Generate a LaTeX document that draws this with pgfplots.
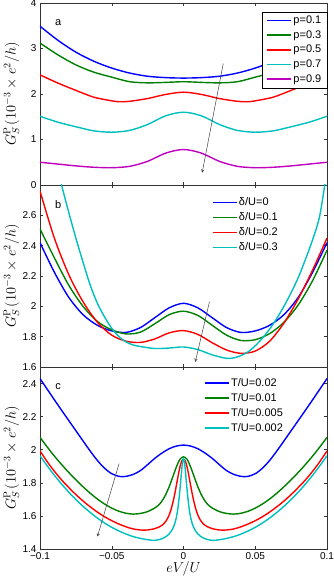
\documentclass[border=0pt]{standalone}
\usepackage[no-math]{fontspec}
\setmainfont{Liberation Sans}
\usepackage{pgfplots}
\pgfplotsset{compat=1.18}

\definecolor{mblue}{rgb}{0,0,1}
\definecolor{mgreen}{rgb}{0,0.5,0}
\definecolor{mred}{rgb}{1,0,0}
\definecolor{mcyan}{rgb}{0,0.75,0.75}
\definecolor{mmag}{rgb}{0.75,0,0.75}

\tikzset{lbl/.style={font=\fontsize{11}{13}\selectfont, anchor=center}}

\pgfplotsset{
  panel/.style={
    width=287pt, height=182pt, scale only axis,
    xmin=-0.1, xmax=0.1,
    xtick={-0.1,-0.05,0,0.05,0.1},
    tick align=inside, tick pos=both,
    major tick length=3pt,
    axis line style={line width=0.5pt, black!80},
    every tick/.style={black!80, line width=0.5pt},
    tick label style={font=\fontsize{10}{12}\selectfont},
    /pgf/number format/assume math mode=true,
    ylabel={$G_S^{\rm P}\,(10^{-3}\times e^2/h)$},
    ylabel style={at={(axis description cs:-0.1,0.5)}, anchor=center,
      font=\fontsize{14.5}{16}\selectfont},
    every axis plot/.append style={line width=1.4pt, smooth},
    legend cell align=left,
    legend image code/.code={\draw[##1, line width=1.5pt] (0pt,0pt) -- (24pt,0pt);},
    legend style={font=\fontsize{11}{13}\selectfont, row sep=2.5pt,
      nodes={inner sep=1.5pt}},
  },
}

\begin{document}
\begin{tikzpicture}
% panel a
\begin{axis}[panel, name=a, at={(0,0)}, anchor=north west,
  ymin=0, ymax=4, ytick={0,1,2,3,4}, xticklabels={},
  legend style={at={(axis description cs:1,0.952)}, anchor=north east, draw=black, fill=white,
    inner xsep=4pt, inner ysep=2.5pt}]
\addplot[mblue] coordinates {(-0.1,3.49) (-0.0875,3.18) (-0.075,2.92) (-0.0625,2.72) (-0.05,2.57) (-0.0375,2.46) (-0.025,2.39) (-0.0125,2.36) (0,2.35) (0.0125,2.36) (0.025,2.39) (0.0375,2.46) (0.05,2.57) (0.0625,2.72) (0.075,2.92) (0.0875,3.18) (0.1,3.49)};
\addlegendentry{p=0.1}
\addplot[mgreen] coordinates {(-0.1,3.12) (-0.0875,2.86) (-0.075,2.64) (-0.0625,2.48) (-0.05,2.37) (-0.0375,2.27) (-0.025,2.245) (-0.0125,2.255) (0,2.27) (0.0125,2.255) (0.025,2.245) (0.0375,2.27) (0.05,2.37) (0.0625,2.48) (0.075,2.64) (0.0875,2.86) (0.1,3.12)};
\addlegendentry{p=0.3}
\addplot[mred] coordinates {(-0.1,2.42) (-0.0875,2.24) (-0.075,2.08) (-0.0625,1.93) (-0.05,1.85) (-0.045,1.83) (-0.0375,1.84) (-0.025,1.90) (-0.0125,1.99) (0,2.04) (0.0125,1.99) (0.025,1.90) (0.0375,1.84) (0.045,1.83) (0.05,1.85) (0.0625,1.93) (0.075,2.08) (0.0875,2.24) (0.1,2.42)};
\addlegendentry{p=0.5}
\addplot[mcyan] coordinates {(-0.1,1.51) (-0.0875,1.38) (-0.075,1.28) (-0.0625,1.19) (-0.05,1.16) (-0.0375,1.20) (-0.025,1.33) (-0.0125,1.52) (0,1.60) (0.0125,1.52) (0.025,1.33) (0.0375,1.20) (0.05,1.16) (0.0625,1.19) (0.075,1.28) (0.0875,1.38) (0.1,1.51)};
\addlegendentry{p=0.7}
\addplot[mmag] coordinates {(-0.1,0.50) (-0.0875,0.46) (-0.075,0.42) (-0.0625,0.39) (-0.05,0.38) (-0.0375,0.41) (-0.025,0.52) (-0.0125,0.70) (0,0.78) (0.0125,0.70) (0.025,0.52) (0.0375,0.41) (0.05,0.38) (0.0625,0.39) (0.075,0.42) (0.0875,0.46) (0.1,0.50)};
\addlegendentry{p=0.9}
\node[lbl] at (rel axis cs:0.063,0.89) {a};
\draw[-stealth, black!75, line width=0.5pt] (axis cs:0.0277,2.67) -- (axis cs:0.013,0.27);
\end{axis}

% panel b
\begin{axis}[panel, name=b, at={(a.south west)}, anchor=north west,
  ymin=1.6, ymax=2.8, ytick={1.6,1.8,2,2.2,2.4,2.6,2.8},
  yticklabels={1.6,1.8,2,2.2,2.4,2.6,{}}, xticklabels={},
  legend style={at={(axis description cs:0.588,0.61)}, anchor=south west, draw=none, fill=none}]
\addplot[mblue] coordinates {(-0.1,2.42) (-0.09,2.225) (-0.08,2.06) (-0.07,1.945) (-0.06,1.875) (-0.05,1.838) (-0.04,1.828) (-0.03,1.86) (-0.02,1.925) (-0.01,1.99) (0,2.02) (0.01,1.99) (0.02,1.925) (0.03,1.86) (0.04,1.828) (0.05,1.838) (0.06,1.875) (0.07,1.945) (0.08,2.06) (0.09,2.225) (0.1,2.42)};
\addlegendentry{δ/U=0}
\addplot[mgreen] coordinates {(-0.1,2.51) (-0.09,2.32) (-0.08,2.14) (-0.07,2.0) (-0.06,1.90) (-0.05,1.845) (-0.04,1.818) (-0.03,1.83) (-0.02,1.885) (-0.01,1.945) (0,1.968) (0.01,1.94) (0.02,1.875) (0.03,1.81) (0.04,1.775) (0.05,1.78) (0.06,1.82) (0.07,1.895) (0.08,2.01) (0.09,2.17) (0.1,2.37)};
\addlegendentry{δ/U=0.1}
\addplot[mred] coordinates {(-0.1,2.76) (-0.09,2.45) (-0.08,2.21) (-0.07,2.03) (-0.06,1.895) (-0.05,1.81) (-0.04,1.77) (-0.03,1.762) (-0.02,1.785) (-0.01,1.825) (0,1.84) (0.01,1.815) (0.02,1.76) (0.03,1.712) (0.04,1.69) (0.05,1.705) (0.06,1.77) (0.07,1.89) (0.08,2.05) (0.09,2.24) (0.1,2.45)};
\addlegendentry{δ/U=0.2}
\addplot[mcyan] coordinates {(-0.1,3.3) (-0.09,2.98) (-0.085,2.80) (-0.08,2.62) (-0.075,2.45) (-0.07,2.29) (-0.065,2.14) (-0.06,2.02) (-0.055,1.93) (-0.05,1.855) (-0.045,1.80) (-0.04,1.765) (-0.035,1.745) (-0.03,1.735) (-0.02,1.722) (-0.01,1.725) (0,1.732) (0.01,1.715) (0.02,1.68) (0.03,1.657) (0.035,1.66) (0.04,1.675) (0.045,1.70) (0.05,1.74) (0.055,1.79) (0.06,1.85) (0.065,1.92) (0.07,2.0) (0.075,2.09) (0.08,2.19) (0.085,2.31) (0.09,2.44) (0.095,2.6) (0.1,2.9)};
\addlegendentry{δ/U=0.3}
\node[lbl] at (rel axis cs:0.063,0.89) {b};
\draw[-stealth, black!75, line width=0.5pt] (axis cs:0.0181,2.03) -- (axis cs:0.0082,1.634);
\end{axis}

% panel c
\begin{axis}[panel, name=c, at={(b.south west)}, anchor=north west,
  ymin=1.4, ymax=2.5, ytick={1.4,1.6,...,2.4},
  xticklabels={−0.1,−0.05,0,0.05,0.1},
  xlabel={$eV/U$},
  xlabel style={font=\fontsize{14.5}{16}\selectfont, at={(axis description cs:0.5,-0.112)}, anchor=center},
  legend style={at={(axis description cs:0.561,0.959)}, anchor=north west, draw=none, fill=none}]
\addplot[mblue] coordinates {(-0.1,2.43) (-0.095,2.366) (-0.09,2.302) (-0.085,2.239) (-0.08,2.177) (-0.075,2.115) (-0.07,2.053) (-0.065,1.992) (-0.06,1.935) (-0.055,1.888) (-0.05,1.855) (-0.045,1.839) (-0.0425,1.837) (-0.04,1.839) (-0.035,1.851) (-0.03,1.874) (-0.025,1.91) (-0.02,1.948) (-0.015,1.98) (-0.01,2.006) (-0.005,2.022) (0,2.028) (0.005,2.022) (0.01,2.006) (0.015,1.98) (0.02,1.948) (0.025,1.91) (0.03,1.874) (0.035,1.851) (0.04,1.839) (0.0425,1.837) (0.045,1.839) (0.05,1.855) (0.055,1.888) (0.06,1.935) (0.065,1.992) (0.07,2.053) (0.075,2.115) (0.08,2.177) (0.085,2.239) (0.09,2.302) (0.095,2.366) (0.1,2.43)};
\addlegendentry{T/U=0.02}
\addplot[mgreen] coordinates {(-0.1,2.075) (-0.095,2.017) (-0.09,1.962) (-0.085,1.911) (-0.08,1.863) (-0.075,1.818) (-0.07,1.776) (-0.065,1.737) (-0.06,1.702) (-0.055,1.672) (-0.05,1.647) (-0.045,1.628) (-0.04,1.616) (-0.035,1.611) (-0.03,1.615) (-0.025,1.626) (-0.02,1.648) (-0.0175,1.664) (-0.015,1.69) (-0.0125,1.727) (-0.01,1.776) (-0.0075,1.835) (-0.005,1.895) (-0.0025,1.942) (0,1.957) (0.0025,1.942) (0.005,1.895) (0.0075,1.835) (0.01,1.776) (0.0125,1.727) (0.015,1.69) (0.0175,1.664) (0.02,1.648) (0.025,1.626) (0.03,1.615) (0.035,1.611) (0.04,1.616) (0.045,1.628) (0.05,1.647) (0.055,1.672) (0.06,1.702) (0.065,1.737) (0.07,1.776) (0.075,1.818) (0.08,1.863) (0.085,1.911) (0.09,1.962) (0.095,2.017) (0.1,2.075)};
\addlegendentry{T/U=0.01}
\addplot[mred] coordinates {(-0.1,1.993) (-0.095,1.928) (-0.09,1.87) (-0.085,1.818) (-0.08,1.772) (-0.075,1.729) (-0.07,1.69) (-0.065,1.655) (-0.06,1.623) (-0.055,1.595) (-0.05,1.571) (-0.045,1.551) (-0.04,1.534) (-0.035,1.521) (-0.03,1.515) (-0.0275,1.514) (-0.025,1.515) (-0.02,1.523) (-0.017,1.533) (-0.014,1.55) (-0.012,1.571) (-0.01,1.605) (-0.009,1.63) (-0.008,1.66) (-0.007,1.696) (-0.006,1.737) (-0.005,1.783) (-0.004,1.83) (-0.003,1.875) (-0.002,1.912) (-0.001,1.936) (0,1.943) (0.001,1.936) (0.002,1.912) (0.003,1.875) (0.004,1.83) (0.005,1.783) (0.006,1.737) (0.007,1.696) (0.008,1.66) (0.009,1.63) (0.01,1.605) (0.012,1.571) (0.014,1.55) (0.017,1.533) (0.02,1.523) (0.025,1.515) (0.0275,1.514) (0.03,1.515) (0.035,1.521) (0.04,1.534) (0.045,1.551) (0.05,1.571) (0.055,1.595) (0.06,1.623) (0.065,1.655) (0.07,1.69) (0.075,1.729) (0.08,1.772) (0.085,1.818) (0.09,1.87) (0.095,1.928) (0.1,1.993)};
\addlegendentry{T/U=0.005}
\addplot[mcyan] coordinates {(-0.1,1.964) (-0.095,1.903) (-0.09,1.846) (-0.085,1.793) (-0.08,1.744) (-0.075,1.699) (-0.07,1.658) (-0.065,1.621) (-0.06,1.587) (-0.055,1.557) (-0.05,1.531) (-0.045,1.509) (-0.04,1.49) (-0.035,1.475) (-0.03,1.464) (-0.025,1.456) (-0.02,1.452) (-0.015,1.462) (-0.012,1.476) (-0.01,1.491) (-0.0085,1.508) (-0.007,1.532) (-0.006,1.556) (-0.005,1.59) (-0.004,1.64) (-0.003,1.713) (-0.0025,1.757) (-0.002,1.805) (-0.0015,1.855) (-0.001,1.90) (-0.0005,1.935) (0,1.947) (0.0005,1.935) (0.001,1.90) (0.0015,1.855) (0.002,1.805) (0.0025,1.757) (0.003,1.713) (0.004,1.64) (0.005,1.59) (0.006,1.556) (0.007,1.532) (0.0085,1.508) (0.01,1.491) (0.012,1.476) (0.015,1.462) (0.02,1.452) (0.025,1.456) (0.03,1.464) (0.035,1.475) (0.04,1.49) (0.045,1.509) (0.05,1.531) (0.055,1.557) (0.06,1.587) (0.065,1.621) (0.07,1.658) (0.075,1.699) (0.08,1.744) (0.085,1.793) (0.09,1.846) (0.095,1.903) (0.1,1.964)};
\addlegendentry{T/U=0.002}
\node[lbl] at (rel axis cs:0.063,0.89) {c};
\draw[-stealth, black!75, line width=0.5pt] (axis cs:-0.0449,1.916) -- (axis cs:-0.060,1.475);
\end{axis}
\pgfresetboundingbox
\useasboundingbox (-40pt,3pt) rectangle (293pt,-578pt);
\end{tikzpicture}
\end{document}
